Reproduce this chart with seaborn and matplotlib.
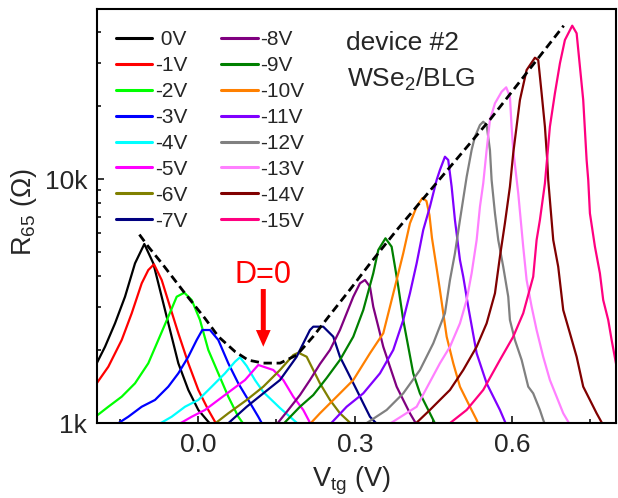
import matplotlib
matplotlib.use("Agg")
import matplotlib.pyplot as plt
import seaborn as sns
import numpy as np
from matplotlib.lines import Line2D
from matplotlib.ticker import FixedLocator, FixedFormatter, NullFormatter

# ---------------- data ----------------
gate_labels = [" 0V", "-1V", "-2V", "-3V", "-4V", "-5V", "-6V", "-7V",
               "-8V", "-9V", "-10V", "-11V", "-12V", "-13V", "-14V", "-15V"]
gate_colors = ["#000000", "#FF0000", "#00FF00", "#0000FF", "#00FFFF", "#FF00FF",
               "#808000", "#000080", "#800080", "#008000", "#FF8000", "#8000FF",
               "#808080", "#FF80FF", "#800000", "#FF0080"]

vtg_0V = [-0.200, -0.1777, -0.1586, -0.1395, -0.1204, -0.1026, -0.0854, -0.0694, -0.0535, -0.0376, -0.0185, 0.0006, 0.0197, 0.030]
r_0V = [1650, 2054, 2562, 3293, 4512, 5415, 4512, 3293, 2405, 1757, 1366, 1131, 1012, 960]

vtg_1V = [-0.200, -0.1714, -0.1458, -0.1267, -0.1076, -0.0950, -0.0841, -0.0694, -0.0535, -0.0376, -0.0185, 0.0006, 0.0197, 0.0325, 0.038]
r_1V = [1390, 1701, 2189, 2816, 3737, 4236, 4470, 3856, 2996, 2332, 1757, 1366, 1131, 1012, 975]

vtg_2V = [-0.200, -0.1714, -0.1458, -0.1204, -0.0950, -0.0759, -0.0568, -0.0407, -0.0262, -0.0120, 0.0038, 0.0197, 0.0388, 0.0579, 0.0770, 0.090]
r_2V = [1045, 1166, 1282, 1454, 1757, 2189, 2727, 3293, 3420, 3192, 2643, 1992, 1598, 1282, 1061, 970]

vtg_3V = [-0.158, -0.1332, -0.1076, -0.0822, -0.0568, -0.0376, -0.0185, -0.0025, 0.0082, 0.0229, 0.0388, 0.0579, 0.0770, 0.0961, 0.1152, 0.124]
r_3V = [980, 1061, 1166, 1243, 1409, 1598, 1869, 2189, 2405, 2405, 2189, 1757, 1454, 1243, 1061, 980]

vtg_4V = [-0.078, -0.0503, -0.0248, 0.0006, 0.0262, 0.0516, 0.0707, 0.0803, 0.0931, 0.1089, 0.1248, 0.1567, 0.1886, 0.195]
r_4V = [980, 1061, 1166, 1243, 1409, 1598, 1783, 1859, 1713, 1500, 1340, 1152, 1003, 975]

vtg_5V = [-0.040, -0.0120, 0.0134, 0.0388, 0.0644, 0.0898, 0.1152, 0.1439, 0.1630, 0.1821, 0.2012, 0.2140, 0.218]
r_5V = [980, 1061, 1131, 1243, 1366, 1500, 1729, 1649, 1500, 1282, 1131, 1003, 975]

vtg_6V = [0.030, 0.0579, 0.0931, 0.1248, 0.1567, 0.1821, 0.1917, 0.2077, 0.2203, 0.2331, 0.2522, 0.2713, 0.2905, 0.294]
r_6V = [985, 1096, 1243, 1409, 1649, 1899, 1942, 1869, 1649, 1454, 1243, 1096, 1003, 975]

vtg_7V = [0.055, 0.0931, 0.1248, 0.1567, 0.1886, 0.1949, 0.2140, 0.2203, 0.2394, 0.2586, 0.2713, 0.2841, 0.3033, 0.3159, 0.3287, 0.345]
r_7V = [985, 1166, 1323, 1500, 1869, 1992, 2405, 2482, 2482, 2258, 1869, 1649, 1366, 1204, 1061, 975]

vtg_8V = [0.150, 0.1695, 0.1949, 0.2140, 0.2331, 0.2522, 0.2713, 0.2841, 0.2968, 0.3096, 0.3191, 0.3287, 0.3350, 0.3446, 0.3541, 0.3669, 0.3797, 0.3923, 0.4051, 0.4146, 0.418]
r_8V = [985, 1110, 1302, 1500, 1745, 1992, 2405, 2816, 3293, 3737, 3856, 3620, 2996, 2482, 2054, 1701, 1409, 1243, 1096, 1012, 975]

vtg_9V = [0.162, 0.1949, 0.2203, 0.2459, 0.2713, 0.2968, 0.3159, 0.3350, 0.3446, 0.3583, 0.3701, 0.3765, 0.3828, 0.3923, 0.4019, 0.4114, 0.4242, 0.4370, 0.4497, 0.455]
r_9V = [985, 1166, 1302, 1529, 1813, 2258, 2904, 4107, 5118, 5715, 5279, 4371, 3620, 2643, 2054, 1598, 1323, 1166, 1029, 975]

vtg_10V = [0.213, 0.2331, 0.2650, 0.2968, 0.3287, 0.3541, 0.3669, 0.3797, 0.3923, 0.4051, 0.4179, 0.4290, 0.4367, 0.4424, 0.4472, 0.4561, 0.4624, 0.4753, 0.4879, 0.5007, 0.5198, 0.5326, 0.537]
r_10V = [985, 1096, 1282, 1500, 1931, 2332, 2996, 3856, 4961, 6583, 7700, 8358, 8123, 7112, 5731, 4317, 3509, 2258, 1757, 1409, 1166, 1029, 975]

vtg_11V = [0.252, 0.2841, 0.3159, 0.3478, 0.3732, 0.3923, 0.4051, 0.4179, 0.4305, 0.4433, 0.4561, 0.4624, 0.4720, 0.4783, 0.4848, 0.4911, 0.5007, 0.5070, 0.5165, 0.5326, 0.5517, 0.5771, 0.590]
r_11V = [985, 1166, 1323, 1598, 1992, 2643, 3401, 4512, 6180, 7700, 9906, 10887, 12340, 11963, 9300, 6792, 4656, 3977, 2996, 1931, 1454, 1131, 975]

vtg_12V = [0.318, 0.3606, 0.3923, 0.4242, 0.4497, 0.4720, 0.4816, 0.4911, 0.5007, 0.5135, 0.5230, 0.5293, 0.5389, 0.5452, 0.5517, 0.5580, 0.5612, 0.5676, 0.5739, 0.5834, 0.5930, 0.5962, 0.6057, 0.6186, 0.6312, 0.6407, 0.6535, 0.6599, 0.664]
r_12V = [985, 1131, 1323, 1649, 2121, 2816, 3856, 4961, 6792, 10206, 13151, 14902, 16644, 17170, 16644, 13151, 9906, 7234, 5623, 4371, 3293, 2643, 2189, 1813, 1409, 1323, 1131, 1029, 975]

vtg_13V = [0.364, 0.4179, 0.4624, 0.4816, 0.5007, 0.5135, 0.5230, 0.5326, 0.5389, 0.5452, 0.5517, 0.5580, 0.5676, 0.5804, 0.5891, 0.5962, 0.5994, 0.6025, 0.6121, 0.6216, 0.6281, 0.6377, 0.6472, 0.6598, 0.6726, 0.6854, 0.6981, 0.7076, 0.712]
r_13V = [985, 1166, 1757, 2054, 2562, 3192, 4107, 5623, 7700, 9603, 13151, 17451, 20426, 22795, 23757, 21747, 16379, 13151, 8737, 5279, 3856, 2996, 2405, 1869, 1500, 1282, 1096, 1012, 975]

vtg_14V = [0.414, 0.4433, 0.4624, 0.4816, 0.5070, 0.5326, 0.5517, 0.5676, 0.5771, 0.5866, 0.5962, 0.6025, 0.6153, 0.6281, 0.6440, 0.6503, 0.6568, 0.6631, 0.6675, 0.6694, 0.6790, 0.6885, 0.6981, 0.7109, 0.7237, 0.7363, 0.7491, 0.7619, 0.775]
r_14V = [985, 1131, 1243, 1366, 1649, 2054, 2562, 3401, 4805, 6583, 9300, 12743, 21076, 27970, 31414, 30740, 22452, 16379, 11963, 9906, 5623, 4371, 2904, 2332, 1869, 1409, 1243, 1096, 975]

vtg_15V = [0.478, 0.5135, 0.5452, 0.5771, 0.6025, 0.6216, 0.6407, 0.6472, 0.6535, 0.6631, 0.6726, 0.6822, 0.6918, 0.7013, 0.7153, 0.7237, 0.7300, 0.7363, 0.7428, 0.7459, 0.7491, 0.7587, 0.7682, 0.7745, 0.7841, 0.7906, 0.8001, 0.810]
r_15V = [985, 1131, 1366, 1813, 2258, 2816, 3977, 5623, 6792, 9603, 16379, 22452, 29810, 37129, 42503, 39552, 28860, 21076, 11963, 9906, 7234, 5279, 4107, 3192, 2643, 2189, 1701, 1366]

# dashed envelope
env_vtg = [-0.112, -0.095, -0.069, -0.025, 0.013, 0.039, 0.071, 0.096, 0.125, 0.157, 0.189, 0.220, 0.252, 0.290, 0.329, 0.380, 0.558, 0.699]
env_r = [5920, 5280, 4510, 3400, 2690, 2260, 1960, 1810, 1760, 1760, 1900, 2260, 2770, 3510, 4510, 6180, 17500, 42500]

x_major = [0.0, 0.3, 0.6]
x_minor = [-0.15, 0.15, 0.45, 0.75]
x_ticklabels = ["0.0", "0.3", "0.6"]
y_major = [1000, 10000]
y_ticklabels = ["1k", "10k"]
y_minor = [2000, 3000, 4000, 5000, 6000, 7000, 8000, 9000, 20000, 30000, 40000]

curves_x = [vtg_0V, vtg_1V, vtg_2V, vtg_3V, vtg_4V, vtg_5V, vtg_6V, vtg_7V,
            vtg_8V, vtg_9V, vtg_10V, vtg_11V, vtg_12V, vtg_13V, vtg_14V, vtg_15V]
curves_r = [r_0V, r_1V, r_2V, r_3V, r_4V, r_5V, r_6V, r_7V,
            r_8V, r_9V, r_10V, r_11V, r_12V, r_13V, r_14V, r_15V]

# ---------------- style ----------------
sns.set_style("ticks")
plt.rcParams["font.family"] = ["Liberation Sans", "DejaVu Sans"]
plt.rcParams["mathtext.fontset"] = "custom"
plt.rcParams["mathtext.rm"] = "Liberation Sans"
plt.rcParams["mathtext.it"] = "Liberation Sans:italic"
plt.rcParams["mathtext.default"] = "regular"

fig = plt.figure(figsize=(6.18, 4.98), dpi=100)
ax = fig.add_axes([0.157, 0.1506, 0.8398, 0.8307])

for xs, rs, col in zip(curves_x, curves_r, gate_colors):
    sns.lineplot(x=xs, y=rs, color=col, lw=1.6, sort=False, estimator=None, ax=ax)

sns.lineplot(x=env_vtg, y=env_r, color="black", lw=2.0, sort=False, estimator=None,
             ax=ax, dashes=False, linestyle=(0, (3, 1.7)))

ax.set_yscale("log")
ax.set_xlim(-0.193, 0.799)
ax.set_ylim(1000, 49600)

ax.xaxis.set_major_locator(FixedLocator(x_major))
ax.xaxis.set_major_formatter(FixedFormatter(x_ticklabels))
ax.xaxis.set_minor_locator(FixedLocator(x_minor))
ax.yaxis.set_major_locator(FixedLocator(y_major))
ax.yaxis.set_major_formatter(FixedFormatter(y_ticklabels))
ax.yaxis.set_minor_locator(FixedLocator(y_minor))
ax.yaxis.set_minor_formatter(NullFormatter())

ax.tick_params(which="both", direction="in", width=1.3, labelsize=19, top=False, right=False)
ax.tick_params(which="major", length=5, pad=7)
ax.tick_params(which="minor", length=3.2)
for sp in ax.spines.values():
    sp.set_linewidth(1.5)
    sp.set_color("black")

ax.set_xlabel(r"V$_{\rm tg}$ (V)", fontsize=19.5, ha="left", va="baseline")
ax.xaxis.set_label_coords(0.4137, -0.1539)
ax.set_ylabel(r"R$_{65}$ ($\Omega$)", fontsize=19.5, ha="center", va="center")
ax.yaxis.set_label_coords(-0.14, 0.51)

handles = [Line2D([0], [0], color=c, lw=2.2) for c in gate_colors]
leg = ax.legend(handles, gate_labels, ncol=2, loc="upper left", bbox_to_anchor=(0.036, 0.949),
                frameon=False, fontsize=15, handlelength=1.75, handletextpad=0.12,
                columnspacing=1.65, labelspacing=0.33, borderpad=0, borderaxespad=0)

ax.text(0.4798, 0.9027, "device #2", transform=ax.transAxes, fontsize=19, ha="left", va="baseline")
ax.text(0.4811, 0.8123, r"WSe$_2$/BLG", transform=ax.transAxes, fontsize=19, ha="left", va="baseline")

ax.text(0.1248, 3737, "D=0", color="red", fontsize=22, ha="center", va="baseline")
ax.annotate("", xy=(0.1248, 2054), xytext=(0.1248, 3540),
            arrowprops=dict(arrowstyle="simple,head_length=0.6,head_width=0.53,tail_width=0.18",
                            mutation_scale=20, fc="red", ec="red", lw=0, shrinkA=0, shrinkB=0))

fig.savefig("out.png", dpi=100)
